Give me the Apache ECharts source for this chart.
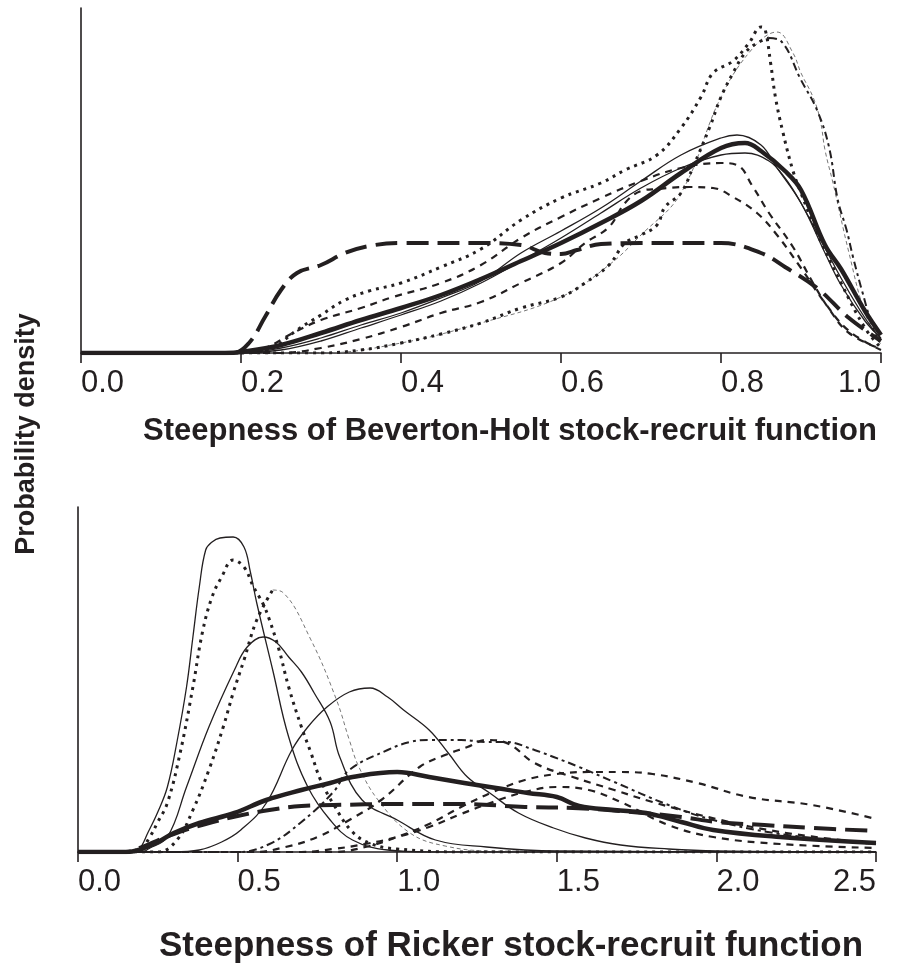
<!DOCTYPE html>
<html><head><meta charset="utf-8">
<script src="https://cdn.jsdelivr.net/npm/echarts@6/dist/echarts.min.js"></script>
<style>html,body{margin:0;padding:0;background:#fff}#c{width:905px;height:971px}</style>
</head><body><div id="c"></div>
<script>
// ---- Tick labels ----
const bhTicks = [0, 0.2, 0.4, 0.6, 0.8, 1.0];
const rkTicks = [0, 0.5, 1.0, 1.5, 2.0, 2.5];
const bhTitle = 'Steepness of Beverton-Holt stock-recruit function';
const rkTitle = 'Steepness of Ricker stock-recruit function';
const yTitle = 'Probability density';

// ---- Beverton-Holt curves [steepness, density] ----
const bhMean = [[0,0],[0.18,0],[0.2,0.01],[0.25,0.08],[0.3,0.20],[0.35,0.33],[0.4,0.45],[0.45,0.58],[0.5,0.74],[0.55,0.92],[0.6,1.10],[0.65,1.30],[0.7,1.52],[0.75,1.80],[0.8,2.05],[0.83,2.10],[0.85,2.02],[0.88,1.82],[0.9,1.63],[0.93,1.08],[0.95,0.84],[0.98,0.42],[1.0,0.18]];
const bhFlat = [[0,0],[0.19,0],[0.21,0.10],[0.23,0.36],[0.25,0.63],[0.27,0.80],[0.3,0.88],[0.33,1.00],[0.36,1.07],[0.4,1.10],[0.5,1.10],[0.55,1.08],[0.58,1.00],[0.6,0.99],[0.62,1.03],[0.65,1.09],[0.7,1.10],[0.8,1.10],[0.85,1.00],[0.88,0.86],[0.92,0.65],[0.96,0.35],[1.0,0.12]];
const bhThinA = [[0,0],[0.2,0],[0.25,0.05],[0.3,0.15],[0.35,0.28],[0.4,0.40],[0.45,0.55],[0.5,0.72],[0.55,1.00],[0.6,1.22],[0.65,1.45],[0.7,1.72],[0.75,1.98],[0.8,2.15],[0.82,2.18],[0.85,2.08],[0.87,1.85],[0.9,1.50],[0.93,1.00],[0.95,0.68],[0.98,0.32],[1.0,0.15]];
const bhThinB = [[0,0],[0.2,0],[0.25,0.03],[0.3,0.12],[0.35,0.25],[0.4,0.38],[0.45,0.52],[0.5,0.70],[0.55,0.92],[0.6,1.15],[0.65,1.40],[0.7,1.65],[0.75,1.85],[0.8,1.98],[0.83,2.00],[0.86,1.92],[0.88,1.75],[0.9,1.50],[0.93,1.05],[0.95,0.75],[0.98,0.35],[1.0,0.14]];
const bhDotA = [[0,0],[0.2,0],[0.22,0.02],[0.24,0.05],[0.27,0.23],[0.3,0.38],[0.33,0.53],[0.36,0.62],[0.4,0.70],[0.45,0.86],[0.5,1.04],[0.55,1.33],[0.6,1.55],[0.65,1.70],[0.68,1.83],[0.72,1.98],[0.75,2.25],[0.775,2.56],[0.79,2.80],[0.815,2.92],[0.835,3.10],[0.85,3.26],[0.855,3.24],[0.862,2.90],[0.868,2.56],[0.877,2.22],[0.89,1.82],[0.9,1.60],[0.92,1.20],[0.95,0.70],[0.98,0.25],[1.0,0.05]];
const bhDotB = [[0,0],[0.3,0],[0.35,0.03],[0.4,0.10],[0.45,0.19],[0.5,0.30],[0.55,0.45],[0.6,0.56],[0.63,0.70],[0.66,0.88],[0.68,1.10],[0.7,1.18],[0.72,1.28],[0.73,1.46],[0.75,1.60],[0.765,1.86],[0.786,2.26],[0.8,2.56],[0.815,2.80],[0.83,3.00],[0.845,3.10],[0.86,3.15],[0.875,3.12],[0.9,2.73],[0.92,2.43],[0.935,2.06],[0.946,1.53],[0.957,1.23],[0.965,0.96],[0.976,0.63],[0.99,0.25],[1.0,0.08]];
const bhDotBPeak = 0.86;
const bhDashA = [[0,0],[0.25,0],[0.3,0.05],[0.35,0.14],[0.4,0.26],[0.45,0.40],[0.5,0.51],[0.55,0.70],[0.6,0.90],[0.63,1.10],[0.66,1.26],[0.68,1.50],[0.7,1.62],[0.72,1.64],[0.76,1.66],[0.79,1.65],[0.815,1.56],[0.845,1.40],[0.87,1.18],[0.9,0.85],[0.93,0.50],[0.96,0.22],[1.0,0.03]];
const bhDashB = [[0,0],[0.2,0],[0.23,0.05],[0.265,0.20],[0.3,0.33],[0.35,0.45],[0.39,0.56],[0.45,0.70],[0.5,0.88],[0.55,1.15],[0.6,1.36],[0.65,1.55],[0.7,1.72],[0.75,1.85],[0.8,1.90],[0.82,1.88],[0.84,1.66],[0.86,1.40],[0.89,1.06],[0.915,0.70],[0.936,0.43],[0.96,0.20],[1.0,0.04]];
const bhFine = [[0,0],[0.3,0],[0.4,0.10],[0.5,0.30],[0.6,0.56],[0.66,0.88],[0.7,1.18],[0.75,1.60],[0.8,2.56],[0.84,3.05],[0.87,3.21],[0.89,3.00],[0.9,2.80],[0.915,2.56],[0.924,2.33],[0.93,2.03],[0.94,1.70],[0.96,1.00],[0.98,0.40],[1.0,0.08]];

// ---- Ricker curves [steepness, density] ----
const rkMean = [[0,0],[0.15,0],[0.19,0.02],[0.25,0.10],[0.3,0.19],[0.38,0.29],[0.49,0.39],[0.59,0.52],[0.7,0.62],[0.79,0.69],[0.86,0.75],[1.0,0.80],[1.1,0.75],[1.21,0.69],[1.31,0.64],[1.41,0.59],[1.5,0.55],[1.57,0.46],[1.68,0.42],[1.78,0.39],[1.89,0.30],[1.99,0.22],[2.2,0.15],[2.5,0.09]];
const rkFlat = [[0,0],[0.15,0],[0.2,0.05],[0.3,0.18],[0.4,0.28],[0.5,0.36],[0.6,0.42],[0.7,0.46],[0.8,0.47],[1.0,0.48],[1.2,0.48],[1.4,0.45],[1.55,0.44],[1.7,0.41],[1.89,0.35],[2.0,0.30],[2.15,0.27],[2.3,0.24],[2.5,0.21]];
const rkThinA = [[0,0],[0.1,0],[0.13,-0.04],[0.16,-0.02],[0.19,0.02],[0.22,0.20],[0.25,0.40],[0.28,0.65],[0.31,1.10],[0.34,1.65],[0.36,2.15],[0.38,2.65],[0.40,3.02],[0.42,3.10],[0.445,3.14],[0.486,3.15],[0.52,3.05],[0.54,2.80],[0.56,2.49],[0.61,1.82],[0.66,1.15],[0.72,0.65],[0.79,0.32],[0.86,0.12],[0.97,0.02],[1.1,0],[2.5,0]];
const rkThinB = [[0,0],[0.2,0],[0.22,0.03],[0.28,0.15],[0.34,0.65],[0.41,1.25],[0.49,1.82],[0.53,2.05],[0.58,2.15],[0.62,2.10],[0.66,1.95],[0.7,1.80],[0.74,1.59],[0.79,1.30],[0.82,0.95],[0.89,0.52],[1.0,0.32],[1.12,0.12],[1.28,0.05],[1.5,0.01],[2.5,0]];
const rkThinC = [[0,0],[0.3,0],[0.38,0.02],[0.45,0.10],[0.51,0.22],[0.59,0.49],[0.67,1.02],[0.72,1.25],[0.78,1.45],[0.85,1.60],[0.915,1.64],[0.97,1.55],[1.02,1.42],[1.1,1.22],[1.16,0.99],[1.22,0.75],[1.29,0.59],[1.38,0.39],[1.49,0.24],[1.59,0.14],[1.7,0.07],[1.85,0.03],[2.0,0.01],[2.5,0]];
const rkDotA = [[0,0],[0.15,0],[0.2,0.05],[0.225,0.15],[0.25,0.30],[0.28,0.49],[0.32,0.99],[0.36,1.65],[0.39,2.20],[0.42,2.55],[0.45,2.75],[0.486,2.92],[0.52,2.85],[0.55,2.65],[0.58,2.48],[0.6,2.32],[0.63,2.02],[0.66,1.65],[0.7,1.25],[0.73,0.99],[0.76,0.72],[0.8,0.48],[0.86,0.20],[0.92,0.08],[1.0,0.03],[1.2,0],[2.5,0]];
const rkDotB = [[0,0],[0.25,0],[0.31,0.12],[0.36,0.42],[0.41,0.82],[0.455,1.25],[0.486,1.59],[0.52,1.92],[0.56,2.32],[0.61,2.62],[0.64,2.60],[0.73,2.12],[0.81,1.52],[0.85,1.12],[0.88,0.85],[0.94,0.52],[1.04,0.19],[1.15,0.06],[1.3,0.01],[2.5,0]];
const rkDotBPeak = 0.61;
const rkDashDot = [[0,0],[0.5,0],[0.6,0.08],[0.7,0.30],[0.8,0.60],[0.85,0.82],[0.97,1.02],[1.04,1.10],[1.1,1.12],[1.2,1.12],[1.28,1.10],[1.34,1.10],[1.43,1.02],[1.49,0.95],[1.57,0.85],[1.68,0.70],[1.85,0.47],[1.99,0.32],[2.2,0.18],[2.5,0.08]];
const rkDashA = [[0,0],[0.55,0],[0.65,0.05],[0.75,0.15],[0.85,0.32],[0.95,0.52],[1.07,0.85],[1.15,0.97],[1.22,1.05],[1.28,1.12],[1.35,1.08],[1.43,0.89],[1.55,0.75],[1.68,0.62],[1.8,0.50],[2.0,0.33],[2.2,0.20],[2.5,0.08]];
const rkDashB = [[0,0],[0.8,0],[0.9,0.05],[1.0,0.15],[1.1,0.28],[1.2,0.45],[1.3,0.60],[1.4,0.72],[1.5,0.78],[1.6,0.80],[1.7,0.80],[1.8,0.78],[1.94,0.69],[2.1,0.55],[2.3,0.47],[2.5,0.33]];
const rkDashC = [[0,0],[0.7,0],[0.8,0.03],[0.9,0.08],[1.0,0.15],[1.1,0.25],[1.2,0.38],[1.3,0.50],[1.4,0.60],[1.5,0.65],[1.6,0.62],[1.7,0.50],[1.85,0.27],[1.99,0.15],[2.2,0.08],[2.5,0.04]];

// ---- styles ----
const INK = '#231f20';
const FONT = '"Liberation Sans", Arial, sans-serif';
const ST = {
  thick: {color: INK, width: 4.5, type: 'solid'},
  longdash: {color: INK, width: 4, type: [22, 9]},
  thin: {color: INK, width: 1.3, type: 'solid'},
  dot: {color: INK, width: 3, type: [3, 5]},
  dash: {color: INK, width: 2.2, type: [7, 6]},
  dashdot: {color: INK, width: 2, type: [8, 4, 3, 4]},
  fine: {color: '#777', width: 1, type: [4, 3]}
};
function upTo(a, x) { return a.filter(p => p[0] <= x); }
function from(a, x) { return a.filter(p => p[0] >= x); }
function line(data, st, idx, z) {
  return {type: 'line', data: data, xAxisIndex: idx, yAxisIndex: idx, symbol: 'none', showSymbol: false,
    smooth: 0.4, lineStyle: Object.assign({cap: 'butt', join: 'round'}, st), z: z || 2, silent: true};
}
const series = [
  line(bhFine, ST.fine, 0, 1),
  line(bhDashA, ST.dash, 0),
  line(bhDashB, ST.dash, 0),
  line(upTo(bhDotB, bhDotBPeak), ST.dot, 0),
  line(from(bhDotB, bhDotBPeak), ST.dashdot, 0),
  line(bhDotA, ST.dot, 0),
  line(bhThinA, ST.thin, 0, 3),
  line(bhThinB, ST.thin, 0, 3),
  line(bhFlat, ST.longdash, 0, 4),
  line(bhMean, ST.thick, 0, 5),

  line(rkDashC, ST.dash, 1),
  line(rkDashB, ST.dash, 1),
  line(rkDashA, ST.dash, 1),
  line(rkDashDot, ST.dashdot, 1),
  line(upTo(rkDotB, rkDotBPeak), ST.dot, 1),
  line(from(rkDotB, rkDotBPeak), ST.fine, 1, 1),
  line(rkDotA, ST.dot, 1),
  line(rkThinA, ST.thin, 1, 3),
  line(rkThinB, ST.thin, 1, 3),
  line(rkThinC, ST.thin, 1, 3),
  line(rkFlat, ST.longdash, 1, 4),
  line(rkMean, ST.thick, 1, 5)
];
function xAx(idx, ticks) {
  return {type: 'value', gridIndex: idx, min: ticks[0], max: ticks[ticks.length - 1], interval: ticks[1] - ticks[0],
    axisLine: {show: true, onZero: false, lineStyle: {color: INK, width: 1.6}},
    axisTick: {show: true, inside: false, length: 10, lineStyle: {color: INK, width: 1.6}},
    splitLine: {show: false},
    axisLabel: {show: true, margin: 15, fontSize: 31, fontFamily: FONT, color: INK,
      align: 'left', alignMaxLabel: 'right', formatter: v => v.toFixed(1)}};
}
function yAx(idx) {
  return {type: 'value', gridIndex: idx, min: 0, max: 3.45,
    axisLine: {show: true, lineStyle: {color: INK, width: 1.6}}, axisTick: {show: false},
    axisLabel: {show: false}, splitLine: {show: false}};
}
const chart = echarts.init(document.getElementById('c'), null, {renderer: 'canvas'});
chart.setOption({
  animation: false,
  backgroundColor: '#fff',
  grid: [{left: 81, width: 800, top: 8, height: 345}, {left: 78, width: 798, top: 507, height: 345}],
  xAxis: [xAx(0, bhTicks), xAx(1, rkTicks)],
  yAxis: [yAx(0), yAx(1)],
  series: series,
  graphic: [
    {type: 'text', x: 510, y: 431, style: {text: bhTitle, font: 'bold 31px ' + FONT, fill: INK, align: 'center', verticalAlign: 'middle'}},
    {type: 'text', x: 511, y: 946, style: {text: rkTitle, font: 'bold 35px ' + FONT, fill: INK, align: 'center', verticalAlign: 'middle'}},
    {type: 'text', x: 27, y: 434, rotation: Math.PI / 2, style: {text: yTitle, font: 'bold 27px ' + FONT, fill: INK, align: 'center', verticalAlign: 'middle'}}
  ]
});
</script></body></html>
